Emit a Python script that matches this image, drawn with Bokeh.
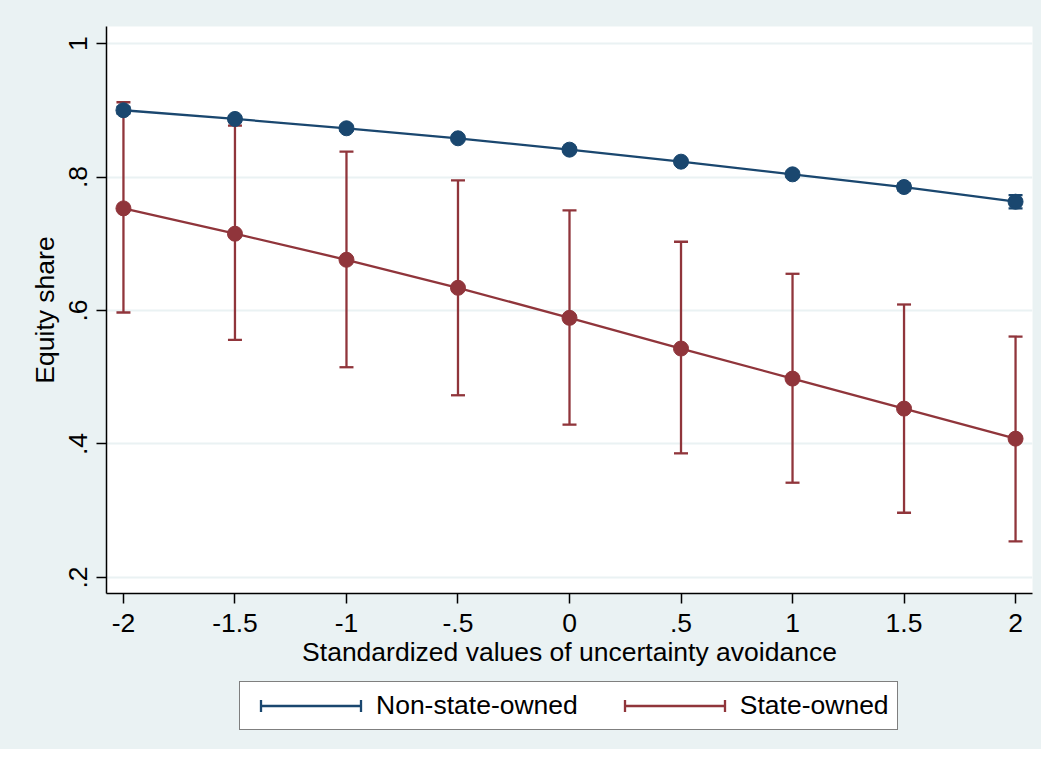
from bokeh.plotting import figure
from bokeh.layouts import column
from bokeh.models import (ColumnDataSource, Whisker, FixedTicker, Legend, LegendItem)
from bokeh.embed import file_html
from bokeh.resources import INLINE

# ---- data ----
x_values = [-2, -1.5, -1, -0.5, 0, 0.5, 1, 1.5, 2]

nonstate_mean  = [0.900, 0.887, 0.873, 0.858, 0.841, 0.823, 0.804, 0.785, 0.763]
nonstate_lower = [0.895, 0.883, 0.869, 0.855, 0.838, 0.820, 0.800, 0.780, 0.753]
nonstate_upper = [0.905, 0.891, 0.877, 0.861, 0.844, 0.826, 0.808, 0.790, 0.773]

state_mean  = [0.753, 0.715, 0.676, 0.634, 0.589, 0.543, 0.498, 0.453, 0.408]
state_lower = [0.597, 0.556, 0.515, 0.473, 0.429, 0.386, 0.342, 0.297, 0.254]
state_upper = [0.912, 0.877, 0.838, 0.795, 0.750, 0.703, 0.655, 0.609, 0.561]

x_ticks = [-2, -1.5, -1, -0.5, 0, 0.5, 1, 1.5, 2]
x_tick_labels = ["-2", "-1.5", "-1", "-.5", "0", ".5", "1", "1.5", "2"]
y_ticks = [0.2, 0.4, 0.6, 0.8, 1.0]
y_tick_labels = [".2", ".4", ".6", ".8", "1"]

series_names = ["Non-state-owned", "State-owned"]
navy = "#1a476f"
maroon = "#90353b"
bg = "#eaf2f3"
FONT = "Liberation Sans"
FS = "26.5px"
LW = 2.3

W = 1041
H_MAIN = 680
H_LEG = 69

p = figure(width=W, height=H_MAIN, output_backend="svg", toolbar_location=None,
           x_range=(-2.076, 2.076), y_range=(0.176, 1.0255),
           min_border_left=106, min_border_right=9, min_border_top=26,
           min_border_bottom=H_MAIN - 593)
p.border_fill_color = bg
p.background_fill_color = "white"
p.outline_line_color = None

src_n = ColumnDataSource(dict(x=x_values, y=nonstate_mean, lo=nonstate_lower, hi=nonstate_upper))
src_s = ColumnDataSource(dict(x=x_values, y=state_mean, lo=state_lower, hi=state_upper))

for src, col in ((src_s, maroon), (src_n, navy)):
    w = Whisker(source=src, base="x", lower="lo", upper="hi", line_color=col, line_width=LW)
    for head in (w.upper_head, w.lower_head):
        head.line_color = col
        head.line_width = LW
        head.size = 14
    p.add_layout(w)

p.line("x", "y", source=src_s, line_color=maroon, line_width=LW)
p.scatter("x", "y", source=src_s, size=15, fill_color=maroon, line_color=maroon)
p.line("x", "y", source=src_n, line_color=navy, line_width=LW)
p.scatter("x", "y", source=src_n, size=15, fill_color=navy, line_color=navy)

# axes
p.xaxis.ticker = FixedTicker(ticks=x_ticks)
p.xaxis.major_label_overrides = {float(t): l for t, l in zip(x_ticks, x_tick_labels)}
p.yaxis.ticker = FixedTicker(ticks=y_ticks)
p.yaxis.major_label_overrides = {float(t): l for t, l in zip(y_ticks, y_tick_labels)}
p.yaxis.major_label_orientation = "vertical"
p.xaxis.axis_label = "Standardized values of uncertainty avoidance"
p.yaxis.axis_label = "Equity share"
for ax in (p.xaxis[0], p.yaxis[0]):
    ax.axis_line_color = "black"
    ax.axis_line_width = 1.5
    ax.major_tick_line_color = "black"
    ax.major_tick_line_width = 1.5
    ax.major_tick_out = 10
    ax.major_tick_in = 0
    ax.minor_tick_line_color = None
    ax.major_label_text_font = FONT
    ax.major_label_text_font_size = FS
    ax.major_label_text_color = "black"
    ax.axis_label_text_font = FONT
    ax.axis_label_text_font_size = FS
    ax.axis_label_text_font_style = "normal"
    ax.axis_label_text_color = "black"
p.xaxis.major_label_standoff = 10
p.xaxis.axis_label_standoff = 2
p.yaxis.major_label_standoff = 9
p.yaxis.axis_label_standoff = 7

p.xgrid.grid_line_color = None
p.ygrid.grid_line_color = bg
p.ygrid.grid_line_width = 2

# ---- legend strip below (Stata-style key: line with end caps) ----
pl = figure(width=W, height=H_LEG, output_backend="svg", toolbar_location=None,
            x_range=(10, 11), y_range=(10, 11), x_axis_type=None, y_axis_type=None,
            min_border=0)
pl.border_fill_color = bg
pl.background_fill_color = bg
pl.outline_line_color = None
pl.grid.visible = False

legend_items = []
for name, col, src in zip(series_names, (navy, maroon), (src_n, src_s)):
    r_line = pl.line("x", "y", source=src, line_color=col, line_width=LW,
                     line_dash="0 12 101 12")
    r_caps = pl.rect("x", "y", width=0.001, height=0.001, source=src, fill_color=None,
                     line_color=col, line_width=LW, line_dash="0 100 12 100 12")
    legend_items.append(LegendItem(label=name, renderers=[r_line, r_caps]))

legend = Legend(items=legend_items, orientation="horizontal", location=(133, 19))
legend.label_text_font = FONT
legend.label_text_font_size = FS
legend.label_text_color = "black"
legend.glyph_width = 125
legend.glyph_height = 15
legend.label_standoff = 3
legend.spacing = 34
legend.padding = 8
legend.margin = 0
legend.border_line_color = "black"
legend.border_line_width = 1.5
legend.background_fill_color = "white"
legend.background_fill_alpha = 1
pl.add_layout(legend, "center")

layout = column(p, pl, spacing=0, styles={"background-color": bg})
open("out.html", "w").write(file_html(layout, INLINE))
